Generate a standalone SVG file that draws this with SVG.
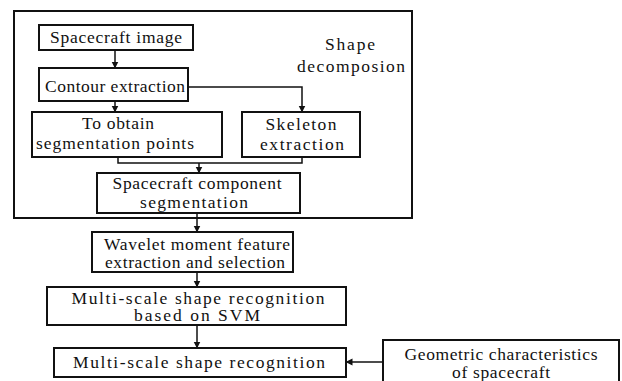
<svg xmlns="http://www.w3.org/2000/svg" width="622" height="381" viewBox="0 0 622 381">
<defs>
<marker id="ah" markerWidth="8" markerHeight="8" refX="6.5" refY="3.5" orient="auto" markerUnits="userSpaceOnUse">
<path d="M0,0 L7,3.5 L0,7 Z" fill="#111"/>
</marker>
</defs>
<rect width="622" height="381" fill="#fff"/>
<g id="frame"><rect x="14" y="11" width="398" height="207" fill="none" stroke="#111" stroke-width="2"/></g>
<g id="connectors" fill="none" stroke="#111" stroke-width="1.5">
<path d="M115,50 V68" marker-end="url(#ah)"/>
<path d="M188,87 H302 V112" marker-end="url(#ah)"/>
<path d="M115,101 V112" marker-end="url(#ah)"/>
<path d="M118,157 V163 H302 V157"/>
<path d="M199,163 V173" marker-end="url(#ah)"/>
<path d="M197,213 V232" marker-end="url(#ah)"/>
<path d="M197,272 V287" marker-end="url(#ah)"/>
<path d="M197,325 V348" marker-end="url(#ah)"/>
<path d="M383,362 H346" marker-end="url(#ah)"/>
</g>
<g id="nodes" font-family="Liberation Serif" font-size="17.5" text-anchor="middle" fill="#111">
<g id="n-image"><rect x="39" y="25" width="154" height="25" fill="#fff" stroke="#111" stroke-width="2"/><text x="116" y="43" textLength="132" lengthAdjust="spacing">Spacecraft image</text></g>
<g id="n-contour"><rect x="39" y="68" width="149" height="33" fill="#fff" stroke="#111" stroke-width="2"/><text x="115" y="92" textLength="140" lengthAdjust="spacing">Contour extraction</text></g>
<g id="n-segpoints"><rect x="32" y="112" width="190" height="45" fill="#fff" stroke="#111" stroke-width="2"/><text x="118" y="129" textLength="72" lengthAdjust="spacing">To obtain</text><text x="115" y="149" textLength="158" lengthAdjust="spacing">segmentation points</text></g>
<g id="n-skeleton"><rect x="242" y="112" width="118" height="45" fill="#fff" stroke="#111" stroke-width="2"/><text x="301" y="130" textLength="71" lengthAdjust="spacing">Skeleton</text><text x="302" y="150" textLength="84" lengthAdjust="spacing">extraction</text></g>
<g id="n-component"><rect x="97" y="173" width="203" height="40" fill="#fff" stroke="#111" stroke-width="2"/><text x="197" y="189" textLength="169" lengthAdjust="spacing">Spacecraft component</text><text x="194" y="208" textLength="108" lengthAdjust="spacing">segmentation</text></g>
<g id="label-decomp"><text x="350" y="50" textLength="50" lengthAdjust="spacing">Shape</text><text x="351" y="72" textLength="108" lengthAdjust="spacing">decomposion</text></g>
<g id="n-wavelet"><rect x="92" y="232" width="201" height="40" fill="#fff" stroke="#111" stroke-width="2"/><text x="197" y="250" textLength="186" lengthAdjust="spacing">Wavelet moment feature</text><text x="195" y="268" textLength="180" lengthAdjust="spacing">extraction and selection</text></g>
<g id="n-svm"><rect x="47" y="287" width="299" height="38" fill="#fff" stroke="#111" stroke-width="2"/><text x="198" y="304" textLength="253" lengthAdjust="spacing">Multi-scale shape recognition</text><text x="197" y="321" textLength="126" lengthAdjust="spacing">based on SVM</text></g>
<g id="n-recog"><rect x="54" y="348" width="292" height="29" fill="#fff" stroke="#111" stroke-width="2"/><text x="199" y="368" textLength="252" lengthAdjust="spacing">Multi-scale shape recognition</text></g>
<g id="n-geom"><rect x="383" y="340" width="236" height="50" fill="#fff" stroke="#111" stroke-width="2"/><text x="501" y="360" textLength="193" lengthAdjust="spacing">Geometric characteristics</text><text x="501" y="378" textLength="98" lengthAdjust="spacing">of spacecraft</text></g>
</g>
</svg>
